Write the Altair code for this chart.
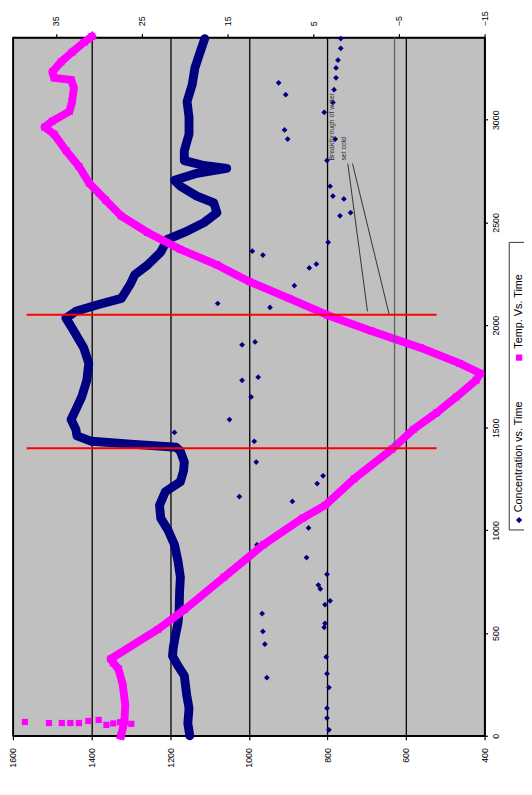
import altair as alt
import pandas as pd

FONT = "Liberation Sans"

# ---- Concentration vs. Time (main dense band) ----
conc_time = [0, 60, 134, 200, 293, 340, 388, 430, 484, 550, 614, 700, 772, 850, 930, 1000,
             1060, 1122, 1189, 1237, 1290, 1333, 1386, 1405, 1420, 1434, 1460, 1492, 1540,
             1588, 1650, 1731, 1813, 1890, 1971, 2034, 2067, 2100, 2130, 2197, 2245, 2293,
             2355, 2417, 2451, 2499, 2547, 2595, 2628, 2676, 2705, 2739, 2763, 2777, 2801,
             2849, 2930, 3012, 3089, 3170, 3252, 3328, 3395]
conc_vals = [1150, 1155, 1152, 1158, 1164, 1180, 1194, 1192, 1187, 1180, 1177, 1176, 1174,
             1180, 1189, 1205, 1224, 1227, 1212, 1174, 1166, 1164, 1174, 1185, 1300, 1400,
             1437, 1440, 1452, 1440, 1425, 1412, 1407, 1420, 1445, 1465, 1440, 1382, 1324,
             1302, 1290, 1257, 1224, 1207, 1164, 1114, 1081, 1089, 1132, 1174, 1189, 1132,
             1056, 1114, 1164, 1164, 1152, 1152, 1157, 1144, 1137, 1124, 1112]

# ---- Concentration vs. Time (scattered readings) ----
out_time = [3180, 3122, 3036, 2950, 2906, 2906, 2801, 2676, 2628, 2614, 2532, 2547, 2403,
            2360, 2341, 2278, 2297, 2192, 2105, 2086, 1904, 1918, 1731, 1746, 3395, 3348,
            3290, 3252, 3204, 3146, 3084, 1650, 1540, 1477, 1434, 1333, 1266, 1228, 1165,
            1141, 1012, 930, 868, 786, 734, 715, 657, 638, 595, 547, 528, 508, 446, 384,
            283, 302, 235, 134, 86, 29]
out_conc = [924, 906, 808, 909, 901, 780, 801, 793, 786, 758, 768, 741, 798, 991, 964, 846,
            828, 884, 1079, 946, 1017, 984, 1017, 976, 766, 766, 773, 778, 778, 783, 786, 994,
            1049, 1189, 986, 981, 811, 826, 1024, 889, 848, 979, 853, 801, 823, 818, 793, 806,
            966, 806, 808, 964, 959, 803, 954, 801, 796, 801, 801, 796]

# ---- Temp. Vs. Time ----
temp_time = [0, 70, 150, 250, 326, 355, 374, 518, 614, 772, 930, 1060, 1122, 1252, 1396,
             1492, 1573, 1650, 1731, 1765, 1813, 1890, 1971, 2048, 2130, 2211, 2293, 2369,
             2451, 2532, 2609, 2691, 2772, 2849, 2930, 2964, 2993, 3041, 3089, 3156, 3194,
             3204, 3233, 3281, 3329, 3377, 3405]
temp_vals = [27.4, 27.0, 26.9, 27.2, 27.7, 28.3, 28.6, 23.1, 20.0, 15.4, 10.8, 6.2, 3.6, 0.2,
             -4.2, -6.7, -9.4, -11.7, -14.0, -14.5, -12.1, -7.5, -1.8, 3.3, 7.8, 12.4, 16.2,
             20.5, 24.3, 27.4, 29.2, 31.1, 32.3, 33.8, 35.2, 36.3, 35.4, 33.4, 33.1, 32.9,
             33.2, 35.2, 35.4, 34.4, 33.1, 31.7, 30.8]
early_time = [67, 62, 62, 62, 62, 72, 77, 53, 60, 66, 58]
early_temp = [38.6, 35.8, 34.3, 33.3, 32.3, 31.2, 30.0, 29.1, 28.3, 27.5, 26.2]

# ---- drawn annotations ----
red_times = [1400, 2050]
red_temp_from = [38.4, 38.4]
red_temp_to = [-9.4, -9.4]
gray_temp = [-4.5]
gray_t_from = [1400]
gray_t_to = [3400]
diag_c1 = [748, 736]
diag_t1 = [2786, 2786]
diag_c2 = [698, 643]
diag_t2 = [2067, 2053]
note_conc = [788, 758]
note_time = [2801, 2801]
note_text = ["Breakthrough of water", "set cold"]

conc_ticks = [400, 600, 800, 1000, 1200, 1400, 1600]
temp_ticks = [-15, -5, 5, 15, 25, 35]
time_ticks = [0, 500, 1000, 1500, 2000, 2500, 3000]

NAVY = "#000080"
MAG = "#FF00FF"

common_axis = dict(labelFont=FONT, labelFontSize=9, labelColor="black", domainColor="black",
                   domainWidth=1.5, tickColor="black", tickWidth=1.2, title=None,
                   labelFlush=False, labelOverlap=False, labelAngle=270, format="d")

y_axis = alt.Axis(orient="right", values=time_ticks, labelAlign="center", labelBaseline="top",
                  labelPadding=4, tickSize=3, grid=False, **common_axis)
y_scale = alt.Scale(domain=[0, 3400], nice=False, zero=False)

xc_axis = alt.Axis(orient="bottom", values=conc_ticks, labelAlign="right", labelBaseline="middle",
                   labelPadding=8, tickSize=4, grid=True, gridColor="black", gridWidth=1.3,
                   gridOpacity=1, **common_axis)
xc_scale = alt.Scale(domain=[400, 1600], reverse=True, nice=False, zero=False)

xt_axis = alt.Axis(orient="top", values=temp_ticks, labelAlign="left", labelBaseline="middle",
                   labelPadding=8, tickSize=4, grid=False, **common_axis)
xt_scale = alt.Scale(domain=[-15, 40], reverse=True, nice=False, zero=False)


def Yq(f):
    return alt.Y(f"{f}:Q", scale=y_scale, axis=y_axis)


def Xc(f):
    return alt.X(f"{f}:Q", scale=xc_scale, axis=xc_axis)


def Xt(f):
    return alt.X(f"{f}:Q", scale=xt_scale, axis=xt_axis)


band_df = pd.DataFrame({"t": conc_time, "c": conc_vals, "i": range(len(conc_time))})
out_df = pd.DataFrame({"t": out_time, "c": out_conc})
temp_df = pd.DataFrame({"t": temp_time, "T": temp_vals, "i": range(len(temp_time))})
early_df = pd.DataFrame({"t": early_time, "T": early_temp})
red_df = pd.DataFrame({"t": red_times, "T1": red_temp_from, "T2": red_temp_to})
gray_df = pd.DataFrame({"T": gray_temp, "t1": gray_t_from, "t2": gray_t_to})
diag_df = pd.DataFrame({"c1": diag_c1, "c2": diag_c2, "t1": diag_t1, "t2": diag_t2})
note_df = pd.DataFrame({"c": note_conc, "t": note_time, "txt": note_text})
one = pd.DataFrame({"k": [0]})

band_line = alt.Chart(band_df).mark_line(color=NAVY, strokeWidth=9, strokeJoin="round",
                                         strokeCap="round").encode(
    x=Xc("c"), y=Yq("t"), order="i:Q")
band_pts = alt.Chart(band_df).mark_point(shape="diamond", filled=True, color=NAVY, size=70,
                                         opacity=1).encode(x=Xc("c"), y=Yq("t"))
out_pts = alt.Chart(out_df).mark_point(shape="diamond", filled=True, color=NAVY, size=34,
                                       opacity=1).encode(x=Xc("c"), y=Yq("t"))
diag = alt.Chart(diag_df).mark_rule(color="#222222", strokeWidth=0.9).encode(
    x=Xc("c1"), x2="c2", y=Yq("t1"), y2="t2")
note = alt.Chart(note_df).mark_text(angle=270, align="left", baseline="middle", font=FONT,
                                    fontSize=7, color="#303030").encode(
    x=Xc("c"), y=Yq("t"), text="txt:N")

leg_box = alt.Chart(one).mark_rect(fill="white", stroke="black", strokeWidth=0.8).encode(
    x=alt.value(504), x2=alt.value(540), y=alt.value(208), y2=alt.value(500))
leg_dia = alt.Chart(one).mark_point(shape="diamond", filled=True, color=NAVY, size=40,
                                    opacity=1).encode(x=alt.value(514), y=alt.value(490))
leg_sq = alt.Chart(one).mark_point(shape="square", filled=True, color=MAG, size=40,
                                   opacity=1).encode(x=alt.value(514), y=alt.value(325))
leg_t1 = alt.Chart(one).mark_text(angle=270, align="left", baseline="middle", font=FONT,
                                  fontSize=11, color="black").encode(
    x=alt.value(514), y=alt.value(482), text=alt.value("Concentration vs. Time"))
leg_t2 = alt.Chart(one).mark_text(angle=270, align="left", baseline="middle", font=FONT,
                                  fontSize=11, color="black").encode(
    x=alt.value(514), y=alt.value(316), text=alt.value("Temp. Vs. Time"))

conc_group = alt.layer(band_line, band_pts, out_pts, diag, note, leg_box, leg_dia, leg_sq,
                       leg_t1, leg_t2)

temp_line = alt.Chart(temp_df).mark_line(color=MAG, strokeWidth=8, strokeJoin="round",
                                         strokeCap="square").encode(
    x=Xt("T"), y=Yq("t"), order="i:Q")
temp_pts = alt.Chart(temp_df).mark_point(shape="square", filled=True, color=MAG, size=50,
                                         opacity=1).encode(x=Xt("T"), y=Yq("t"))
early_pts = alt.Chart(early_df).mark_point(shape="square", filled=True, color=MAG, size=40,
                                           opacity=1).encode(x=Xt("T"), y=Yq("t"))
gray_rule = alt.Chart(gray_df).mark_rule(color="#606060", strokeWidth=1.3).encode(
    x=Xt("T"), y=Yq("t1"), y2="t2")
red_rule = alt.Chart(red_df).mark_rule(color="#FF0000", strokeWidth=2).encode(
    x=Xt("T1"), x2="T2", y=Yq("t"))

temp_group = alt.layer(temp_line, temp_pts, early_pts, gray_rule, red_rule)

chart = alt.layer(conc_group, temp_group).resolve_scale(x="independent").properties(
    width=479, height=709,
    autosize=alt.AutoSizeParams(type="none"),
    padding={"left": 5, "top": 24, "right": 40, "bottom": 46},
    background="white",
).configure_view(fill="#C0C0C0", stroke="black", strokeWidth=1.5)

chart.save("out.html", embed_options={"renderer": "svg", "actions": False})
